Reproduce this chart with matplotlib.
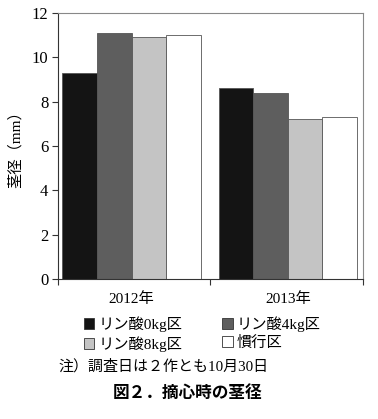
import numpy as np
import matplotlib
matplotlib.use("Agg")
import matplotlib.pyplot as plt
from matplotlib.patches import Patch

plt.rcParams['font.family'] = ['Liberation Serif', 'Noto Sans CJK JP']

years = ['2012年', '2013年']
series = ['リン酸0kg区', 'リン酸4kg区', 'リン酸8kg区', '慣行区']
values = [
    [9.3, 8.6],
    [11.1, 8.4],
    [10.9, 7.2],
    [11.0, 7.3],
]
colors = ['#141414', '#5e5e5e', '#c4c4c4', '#ffffff']

fig = plt.figure(figsize=(3.78, 4.19), dpi=100)
ax = fig.add_axes([58 / 378, 1 - 279 / 419, 305 / 378, 266 / 419])

x = np.arange(len(years))
w = 0.221
for i, (name, vals) in enumerate(zip(series, values)):
    ax.bar(x + (i - 1.5) * w, vals, width=w, color=colors[i],
           edgecolor='#555555', linewidth=0.6, label=name)

ax.set_xlim(-0.47, 1.48)
ax.set_ylim(0, 12)
ax.set_yticks(range(0, 13, 2))
ax.set_xticks([-0.47, 0.5, 1.48])
ax.set_xticklabels([])
for xi, yr in zip(x, years):
    ax.text(xi, -0.6, yr, ha='center', va='top', fontsize=11)
for s in ax.spines.values():
    s.set_color('#888888')
    s.set_linewidth(0.8)
ax.spines['left'].set_color('#333333')
ax.spines['bottom'].set_color('#333333')
ax.tick_params(axis='both', direction='out', length=4, color='#333333',
               labelsize=12, pad=3)
ax.set_ylabel('茎径（mm）', fontsize=11, labelpad=6)

# legend fills column-wise, so reorder to get 0kg/4kg on the first row
order = [0, 2, 1, 3]
handles = [Patch(facecolor=colors[i], edgecolor='#333333', linewidth=0.6) for i in order]
labels = [series[i] for i in order]
fig.legend(handles, labels, loc='center', bbox_to_anchor=(202 / 378, 1 - 334 / 419),
           ncol=2, frameon=False, fontsize=11, handlelength=0.7, handleheight=0.7,
           handletextpad=0.25, columnspacing=2.6, labelspacing=0.25)

fig.text(58 / 378, 1 - 366 / 419, '注）調査日は２作とも10月30日', fontsize=10.8,
         ha='left', va='center')
fig.text(188 / 378, 1 - 393 / 419, '図２．摘心時の茎径', fontsize=12,
         fontweight='bold', family='Noto Sans CJK JP', ha='center', va='center')

fig.savefig('out.png', dpi=100)
